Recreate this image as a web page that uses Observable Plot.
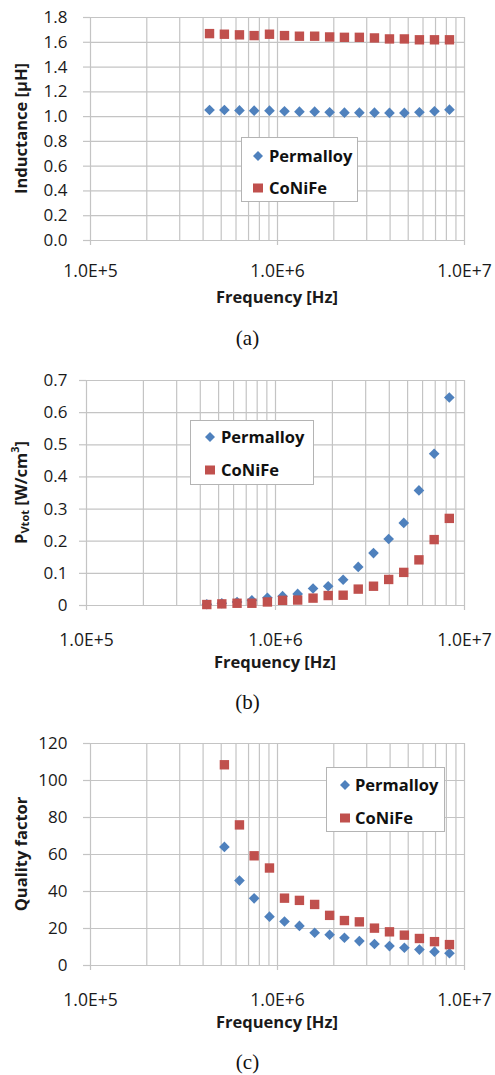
<!DOCTYPE html>
<html>
<head>
<meta charset="utf-8">
<script src="https://cdn.jsdelivr.net/npm/d3@7"></script>
<script src="https://cdn.jsdelivr.net/npm/@observablehq/plot@0.6"></script>
<style>
  body { margin: 0; background: #fff; }
  #root { position: relative; width: 495px; height: 1075px; overflow: hidden; font-family: "Open Sans", sans-serif; }
  .panel { position: absolute; left: 0; }
  .caption { position: absolute; left: 0; width: 495px; height: 22px; text-align: center; font-family: "Liberation Serif", "Times New Roman", serif; font-size: 21px; color: #111; line-height: 22px; }
  .legend { position: absolute; border: 1px solid #b4b4b4; background: #fff; box-sizing: border-box; }
  .legend .row { position: absolute; left: 0; right: 0; height: 0; }
  .legend svg { position: absolute; overflow: visible; }
  .legend span { position: absolute; font-weight: 700; font-size: 16.5px; color: #111; line-height: 20px; top: -10px; white-space: nowrap; }
</style>
</head>
<body>
<div id="root"></div>
<script>
// ---------------- data ----------------
const seriesNames = ["Permalloy", "CoNiFe"];
const seriesColors = ["#4F81BD", "#C0504D"];
const freqHz = [433000, 520000, 626000, 750000, 906000, 1090000, 1310000, 1580000, 1900000,
                2280000, 2740000, 3300000, 3970000, 4770000, 5740000, 6910000, 8310000];
// (a) inductance [µH]
const inductancePermalloy = [1.053, 1.053, 1.050, 1.048, 1.048, 1.043, 1.040, 1.040, 1.035,
                             1.032, 1.032, 1.032, 1.030, 1.030, 1.035, 1.043, 1.056];
const inductanceCoNiFe = [1.670, 1.665, 1.660, 1.654, 1.665, 1.654, 1.649, 1.649, 1.643,
                          1.640, 1.640, 1.635, 1.627, 1.627, 1.620, 1.620, 1.620];
// (b) P_Vtot [W/cm³]
const powerPermalloy = [0.004, 0.007, 0.011, 0.016, 0.024, 0.029, 0.036, 0.053, 0.060,
                        0.080, 0.120, 0.163, 0.207, 0.257, 0.358, 0.472, 0.647];
const powerCoNiFe = [0.003, 0.005, 0.007, 0.007, 0.011, 0.016, 0.017, 0.023, 0.031,
                     0.032, 0.051, 0.060, 0.081, 0.103, 0.142, 0.205, 0.271];
// (c) quality factor
const qualityPermalloy = [null, 64.1, 45.9, 36.3, 26.4, 23.8, 21.4, 17.7, 16.6,
                          15.0, 13.2, 11.6, 10.5, 9.6, 8.6, 7.5, 6.6];
const qualityCoNiFe = [null, 108.5, 76.0, 59.3, 52.7, 36.4, 35.2, 33.0, 27.1,
                       24.3, 23.6, 20.2, 18.2, 16.4, 14.6, 12.9, 11.3];
// ticks
const xMajorTicks = [1e5, 1e6, 1e7];
const xGridTicks = [1e5, 2e5, 3e5, 4e5, 5e5, 6e5, 7e5, 8e5, 9e5,
                    1e6, 2e6, 3e6, 4e6, 5e6, 6e6, 7e6, 8e6, 9e6, 1e7];
const inductanceTicks = [0, 0.2, 0.4, 0.6, 0.8, 1.0, 1.2, 1.4, 1.6, 1.8];
const powerTicks = [0, 0.1, 0.2, 0.3, 0.4, 0.5, 0.6, 0.7];
const qualityTicks = [0, 20, 40, 60, 80, 100, 120];
const xAxisTitle = "Frequency [Hz]";
const captions = ["(a)", "(b)", "(c)"];

// ---------------- helpers ----------------
const root = document.getElementById("root");
const GRID = "#c4c4c4";
const TEXT = "#1a1a1a";

function rows(values) {
  return freqHz.map((f, i) => ({f, v: values[i]})).filter(d => d.v != null);
}

function makePanel(cfg) {
  const svg = Plot.plot({
    width: 495,
    height: cfg.height,
    marginTop: cfg.mt,
    marginBottom: cfg.mb,
    marginLeft: cfg.ml,
    marginRight: 31,
    style: {fontFamily: "'Open Sans', sans-serif", fontSize: "17px", color: TEXT, background: "transparent", overflow: "visible"},
    x: {type: "log", domain: [1e5, 1e7]},
    y: {domain: [cfg.yTicks[0], cfg.yTicks[cfg.yTicks.length - 1]]},
    marks: [
      Plot.ruleX(xGridTicks, {stroke: GRID, strokeWidth: 1.2}),
      Plot.ruleY(cfg.yTicks, {stroke: GRID, strokeWidth: 1.2}),
      Plot.axisY({ticks: cfg.yTicks, tickFormat: cfg.yFormat, tickSize: 7, tickPadding: cfg.ml - 74,
                  stroke: GRID, strokeWidth: 1.2, fill: TEXT, fontSize: 17, label: null}),
      Plot.axisX({ticks: xMajorTicks, tickFormat: d => d.toExponential(1).toUpperCase(), tickSize: 5,
                  tickPadding: cfg.xPad, stroke: GRID, strokeWidth: 1.2, fill: TEXT, fontSize: 17.5, label: null}),
      Plot.dot(rows(cfg.s1), {x: "f", y: "v", symbol: "diamond2", r: 4.8, fill: seriesColors[0], stroke: null}),
      Plot.dot(rows(cfg.s2), {x: "f", y: "v", symbol: "square", r: 5.3, fill: seriesColors[1], stroke: null})
    ]
  });
  svg.classList.add("panel");
  svg.style.top = cfg.top + "px";
  const s = d3.select(svg);
  const plotBottom = cfg.height - cfg.mb;
  const plotMid = (cfg.mt + plotBottom) / 2;
  // y axis title
  const yt = s.append("text")
    .attr("transform", `translate(20,${plotMid}) rotate(-90)`)
    .attr("text-anchor", "middle").attr("dominant-baseline", "central")
    .attr("font-weight", 700).attr("font-size", 16.5).attr("fill", TEXT);
  cfg.yTitle(yt);
  // x axis title
  s.append("text")
    .attr("x", (cfg.ml + 464) / 2).attr("y", plotBottom + 56)
    .attr("text-anchor", "middle").attr("dominant-baseline", "central")
    .attr("font-weight", 700).attr("font-size", 16.5).attr("fill", TEXT)
    .text(xAxisTitle);
  root.appendChild(svg);
}

function makeCaption(text, cy) {
  const d = document.createElement("div");
  d.className = "caption";
  d.style.top = (cy - 11) + "px";
  d.textContent = text;
  root.appendChild(d);
}

function makeLegend(box, rowYs, markerX, textX) {
  const lg = document.createElement("div");
  lg.className = "legend";
  Object.assign(lg.style, {left: box[0] + "px", top: box[1] + "px", width: box[2] + "px", height: box[3] + "px"});
  seriesNames.forEach((name, i) => {
    const r = document.createElement("div");
    r.className = "row";
    r.style.top = rowYs[i] + "px";
    const ns = "http://www.w3.org/2000/svg";
    const sv = document.createElementNS(ns, "svg");
    sv.setAttribute("width", 12); sv.setAttribute("height", 12);
    sv.style.left = (markerX - 6) + "px"; sv.style.top = "-6px";
    let m;
    if (i === 0) {
      m = document.createElementNS(ns, "polygon");
      m.setAttribute("points", "6,1 11,6 6,11 1,6");
    } else {
      m = document.createElementNS(ns, "rect");
      m.setAttribute("x", 1); m.setAttribute("y", 1.5); m.setAttribute("width", 10); m.setAttribute("height", 9);
    }
    m.setAttribute("fill", seriesColors[i]);
    sv.appendChild(m);
    const t = document.createElement("span");
    t.style.left = textX + "px";
    t.textContent = name;
    r.appendChild(sv); r.appendChild(t);
    lg.appendChild(r);
  });
  root.appendChild(lg);
}

// ---------------- panels ----------------
makePanel({
  top: 0, height: 310, mt: 17, mb: 70, ml: 90, xPad: 19,
  yTicks: inductanceTicks, yFormat: d => d.toFixed(1),
  s1: inductancePermalloy, s2: inductanceCoNiFe,
  yTitle: t => t.text("Inductance [µH]")
});
makeLegend([241, 137, 117, 65], [18, 50], 16, 27);
makeCaption(captions[0], 338);

makePanel({
  top: 350, height: 330, mt: 30, mb: 75, ml: 86, xPad: 23,
  yTicks: powerTicks, yFormat: d => d === 0 ? "0" : d.toFixed(1),
  s1: powerPermalloy, s2: powerCoNiFe,
  yTitle: t => {
    t.append("tspan").text("P");
    t.append("tspan").attr("font-size", 11).attr("dy", 4).text("Vtot");
    t.append("tspan").attr("dy", -4).text(" [W/cm");
    t.append("tspan").attr("font-size", 11).attr("dy", -6).text("3");
    t.append("tspan").attr("dy", 6).text("]");
  }
});
makeLegend([190, 420, 124, 65], [16, 49], 19, 30);
makeCaption(captions[1], 702);

makePanel({
  top: 725, height: 315, mt: 18, mb: 75, ml: 90, xPad: 23,
  yTicks: qualityTicks, yFormat: d => String(d),
  s1: qualityPermalloy, s2: qualityCoNiFe,
  yTitle: t => t.text("Quality factor")
});
makeLegend([326, 767, 119, 65], [17, 50], 18, 28);
makeCaption(captions[2], 1062);
</script>
</body>
</html>
